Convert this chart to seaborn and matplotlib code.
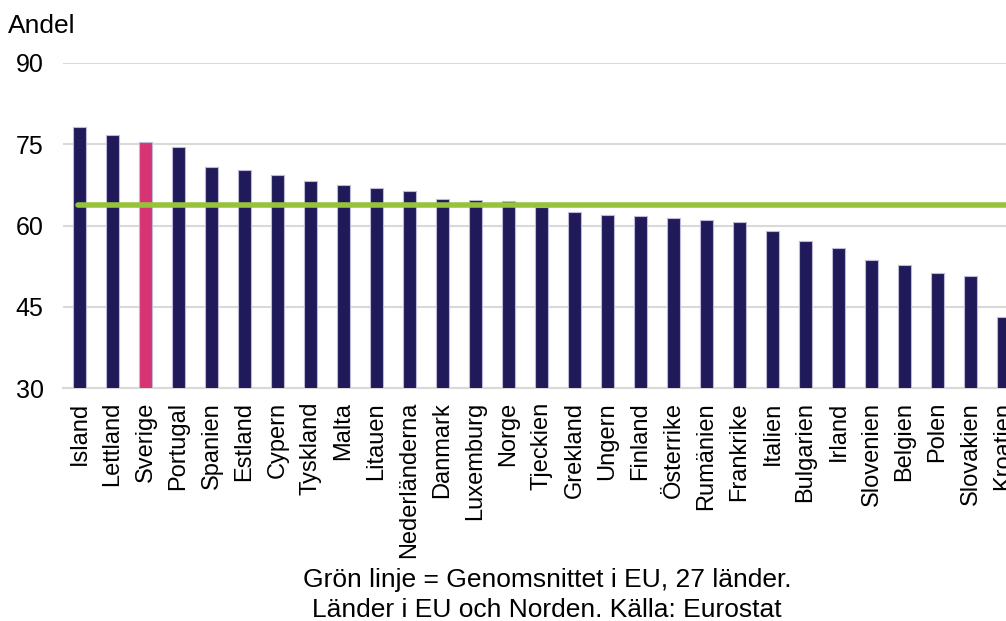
import pandas as pd
import matplotlib.pyplot as plt
import seaborn as sns

countries = ["Island", "Lettland", "Sverige", "Portugal", "Spanien", "Estland", "Cypern",
             "Tyskland", "Malta", "Litauen", "Nederländerna", "Danmark", "Luxemburg", "Norge",
             "Tjeckien", "Grekland", "Ungern", "Finland", "Österrike", "Rumänien", "Frankrike",
             "Italien", "Bulgarien", "Irland", "Slovenien", "Belgien", "Polen", "Slovakien",
             "Kroatien"]
andel = [78.1, 76.8, 75.4, 74.5, 70.8, 70.3, 69.4, 68.3, 67.4, 66.9, 66.4, 64.9, 64.7, 64.6,
         63.4, 62.5, 61.9, 61.8, 61.3, 61.1, 60.6, 58.9, 57.1, 55.8, 53.6, 52.7, 51.2, 50.6,
         43.2]
eu_average = 63.7
y_ticks = [30, 45, 60, 75, 90]

navy = "#201a5a"
pink = "#d63472"
green = "#97c33c"

df = pd.DataFrame({"Land": countries, "Andel": andel})
colors = {c: (pink if c == "Sverige" else navy) for c in countries}

sns.set_style("white")
plt.rcParams['font.family'] = ['Liberation Sans', 'DejaVu Sans']
plt.rcParams['text.color'] = 'black'
plt.rcParams['xtick.color'] = 'black'
plt.rcParams['ytick.color'] = 'black'

fig = plt.figure(figsize=(10.06, 6.21), dpi=100)
# axes run past the right edge, the reference is cropped there
ax = fig.add_axes([63 / 1006, 1 - 388 / 621, 957 / 1006, 325 / 621])

sns.barplot(data=df, x="Land", y="Andel", hue="Land", palette=colors, legend=False,
            width=0.37, saturation=1, edgecolor="#bdb9d6", linewidth=0.8, ax=ax, zorder=3)
ax.axhline(eu_average, color=green, linewidth=4, xmin=0.016, zorder=4)

ax.set_ylim(30, 90)
ax.set_xlim(-0.5, len(countries) - 0.5)
ax.set_yticks(y_ticks)
ax.set_yticklabels([str(t) for t in y_ticks], fontsize=18)
ax.yaxis.grid(True, color="#d9d9d9", linewidth=1.5, zorder=0)
ax.tick_params(axis="y", length=0, pad=14)
ax.tick_params(axis="x", length=0, pad=10, labelsize=17, labelrotation=90)
for s in ["left", "right", "top"]:
    ax.spines[s].set_visible(False)
ax.spines["bottom"].set_color("#d9d9d9")
ax.spines["bottom"].set_linewidth(1.5)
ax.set_xlabel("")
ax.set_ylabel("")

fig.text(8 / 1006, 1 - 26 / 621, "Andel", fontsize=19, va="center", ha="left")
fig.text(547 / 1006, 1 - 580 / 621, "Grön linje = Genomsnittet i EU, 27 länder.",
         fontsize=19, va="center", ha="center")
fig.text(547 / 1006, 1 - 610 / 621, "Länder i EU och Norden. Källa: Eurostat",
         fontsize=19, va="center", ha="center")

fig.savefig("out.png", dpi=100)
